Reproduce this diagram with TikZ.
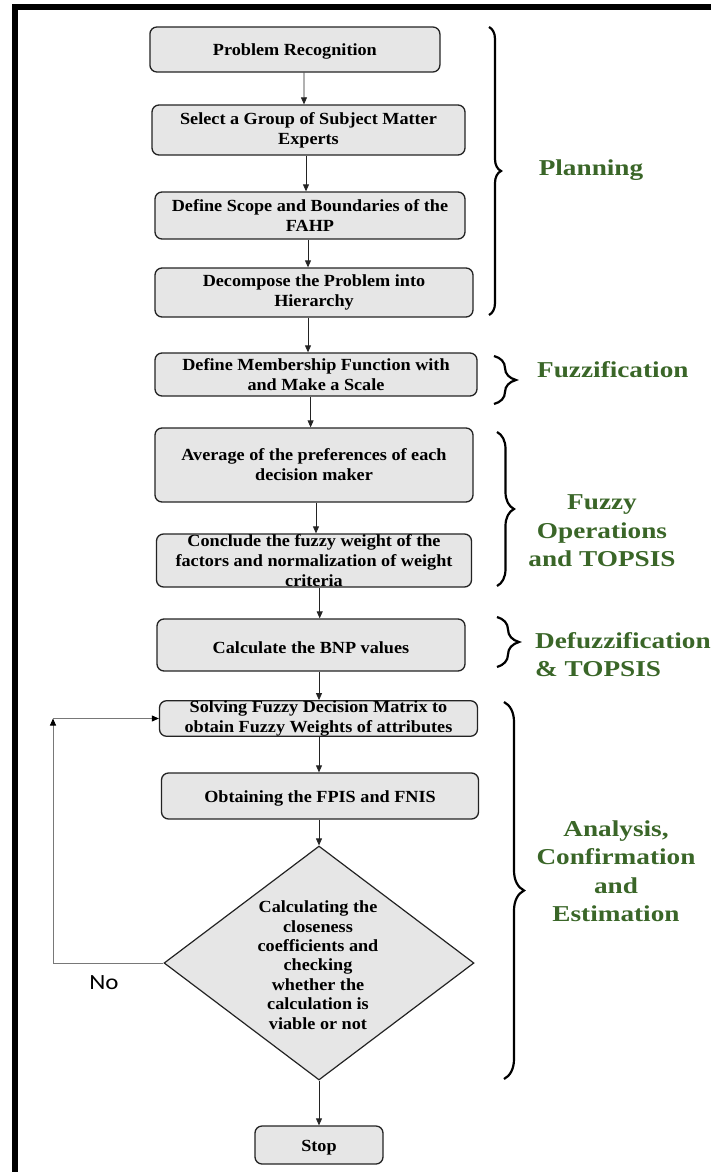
\documentclass[tikz,border=0pt]{standalone}
\usepackage{fontspec}
\usetikzlibrary{arrows.meta,shapes.geometric,decorations.pathreplacing}
\newfontfamily\boxfont[FakeStretch=1.07]{Liberation Serif}
\newfontfamily\labfont[FakeStretch=1.2]{Liberation Serif}
\newfontfamily\nofont[FakeStretch=1.15]{Carlito}
\definecolor{stagegreen}{RGB}{58,102,40}
\definecolor{boxgray}{RGB}{230,230,230}
\definecolor{edgegray}{RGB}{35,35,35}
\definecolor{loopgray}{RGB}{120,120,120}

\begin{document}
\begin{tikzpicture}[x=1pt,y=-1pt,
  stepbox/.style={draw=edgegray, line width=1.3pt, fill=boxgray, rounded corners=7pt,
    inner sep=0pt, align=center, font=\boxfont\bfseries\fontsize{17}{20}\selectfont,
    execute at begin node={\rule{0pt}{16.5pt}}},
  multiline/.style={execute at begin node={\rule{0pt}{21pt}}},
  decisionbox/.style={draw=edgegray, line width=1.2pt, fill=boxgray, diamond,
    minimum width=310pt, minimum height=234pt, inner sep=0pt},
  flowarrow/.style={draw=edgegray, line width=0.8pt, -{Triangle[length=7pt,width=6pt]}},
  looparrow/.style={draw=loopgray, line width=0.9pt, -{Triangle[length=7pt,width=6pt,color=black]}},
  stagebrace/.style={draw=black, line width=2.2pt, decorate},
  stagelabel/.style={text=stagegreen, inner sep=0pt,
    font=\labfont\bfseries\fontsize{22.7}{28.5}\selectfont}
]
\useasboundingbox (0,0) rectangle (711,1172);

% frame lines along the top and left
\fill[black] (12,4) rectangle (711,10);
\fill[black] (12,4) rectangle (18,1172);

% process steps
\node[stepbox, minimum width=290pt, minimum height=45pt] (b1) at (294.9,49.5) {Problem Recognition};
\node[stepbox, multiline, minimum width=313pt, minimum height=50pt] (b2) at (308.5,130) {Select a Group of Subject Matter\\Experts};
\node[stepbox, multiline, minimum width=310pt, minimum height=47pt] (b3) at (310,215.5) {Define Scope and Boundaries of the\\FAHP};
\node[stepbox, multiline, minimum width=318pt, minimum height=49pt] (b4) at (314,292.5) {Decompose the Problem into\\Hierarchy};
\node[stepbox, multiline, minimum width=322pt, minimum height=43pt] (b5) at (316,374.5) {Define Membership Function with\\and Make a Scale};
\node[stepbox, multiline, minimum width=318pt, minimum height=74pt] (b6) at (314,465) {Average of the preferences of each\\decision maker};
\node[stepbox, multiline, minimum width=315pt, minimum height=53pt] (b7) at (314,560.5) {Conclude the fuzzy weight of the\\factors and normalization of weight\\criteria};
\node[stepbox, minimum width=308pt, minimum height=52pt] (b8) at (311,645) {Calculate the BNP values};
\node[stepbox, multiline, minimum width=318pt, minimum height=35pt] (b9) at (318.5,718.5) {Solving Fuzzy Decision Matrix to\\obtain Fuzzy Weights of attributes};
\node[stepbox, minimum width=317pt, minimum height=46pt] (b10) at (320,796) {Obtaining the FPIS and FNIS};
\node[decisionbox] (d) at (319,963) {};
\node[align=center, inner sep=0pt, font=\boxfont\bfseries\fontsize{17}{19.4}\selectfont] (dtext) at (318,965)
  {Calculating the\\closeness\\coefficients and\\checking\\whether the\\calculation is\\viable or not};
\node[stepbox, minimum width=128pt, minimum height=38pt] (stop) at (319,1145) {Stop};

% main flow
\draw[flowarrow] ([xshift=9pt]b1.south) -- ([xshift=-4.5pt]b2.north);
\draw[flowarrow] ([xshift=-2.5pt]b2.south) -- ([xshift=-4pt]b3.north);
\draw[flowarrow] ([xshift=-2pt]b3.south) -- ([xshift=-6pt]b4.north);
\draw[flowarrow] ([xshift=-6pt]b4.south) -- ([xshift=-8pt]b5.north);
\draw[flowarrow] ([xshift=-5.4pt]b5.south) -- ([xshift=-3.4pt]b6.north);
\draw[flowarrow] ([xshift=2pt]b6.south) -- ([xshift=2pt]b7.north);
\draw[flowarrow] ([xshift=5.7pt]b7.south) -- ([xshift=8.7pt]b8.north);
\draw[flowarrow] ([xshift=8pt]b8.south) -- ([xshift=0.5pt]b9.north);
\draw[flowarrow] ([xshift=0.5pt]b9.south) -- ([xshift=-1pt]b10.north);
\draw[flowarrow] ([xshift=-1pt]b10.south) -- (d.north);
\draw[flowarrow] (d.south) -- (stop.north);

% feedback loop when the result is not viable
\coordinate (lc) at (53,718.5);
\draw[looparrow] (d.west) -| (lc);
\draw[looparrow] (lc) -- (b9.west);
\node[font=\nofont\fontsize{21.7}{24}\selectfont, inner sep=0pt] (no) at (104,983) {No};

% stage braces
\draw[stagebrace, decoration={brace, amplitude=12pt}] (489,27) -- (489,315);
\draw[stagebrace, decoration={brace, amplitude=22pt}] (494,356) -- (494,404);
\draw[stagebrace, decoration={brace, amplitude=17pt}] (497,432) -- (497,586);
\draw[stagebrace, decoration={brace, amplitude=22pt}] (497,617) -- (497,667);
\draw[stagebrace, decoration={brace, amplitude=20pt}] (504,702) -- (504,1079);

% stage labels
\node[stagelabel] (lplan) at (591,170) {Planning};
\node[stagelabel, anchor=west] (lfuzz) at (537,370) {Fuzzification};
\node[stagelabel, align=center] (lops) at (602,531) {Fuzzy\\Operations\\and TOPSIS};
\node[stagelabel, align=left, anchor=west] (ldefuzz) at (535,654.5) {Defuzzification\\\& TOPSIS};
\node[stagelabel, align=center] (lana) at (616,871) {Analysis,\\Confirmation\\and\\Estimation};
\end{tikzpicture}
\end{document}
